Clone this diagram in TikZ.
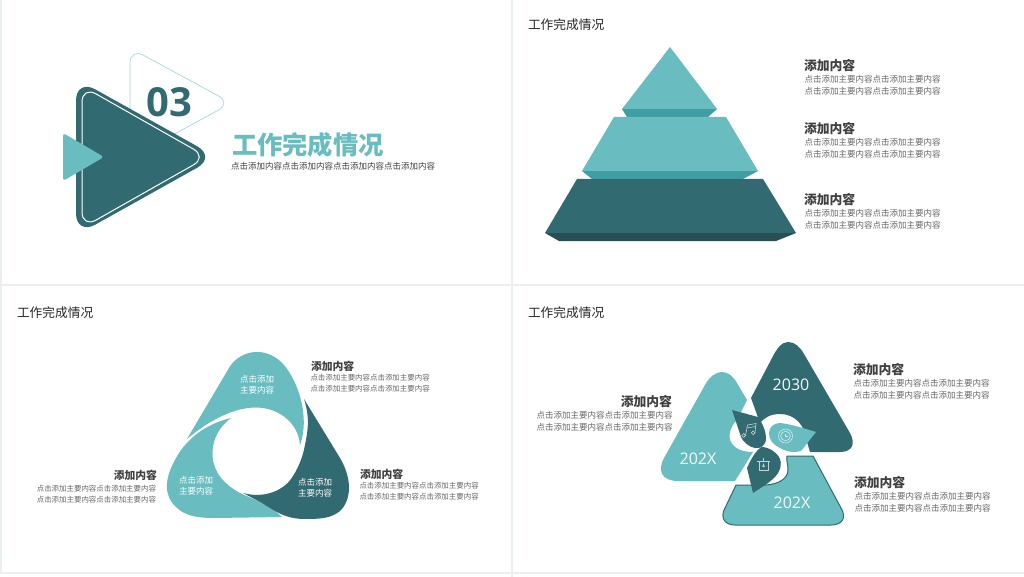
\documentclass[tikz,border=0pt]{standalone}
\usepackage{fontspec}
\setmainfont{Noto Sans CJK SC}
\newfontfamily\latinf{Open Sans}
\definecolor{dk}{HTML}{316A70}
\definecolor{lt}{HTML}{69BDC1}
\definecolor{ltd}{HTML}{3F9EA2}
\definecolor{dkd}{HTML}{274F54}
\definecolor{grid}{HTML}{EBEFF0}
\definecolor{tx}{HTML}{404040}
\definecolor{sub}{HTML}{666666}
\newcommand{\fsz}[1]{\fontsize{#1}{#1}\selectfont}
\tikzset{
  lab/.style={inner sep=0pt,outer sep=0pt},
  hdr/.style={lab,anchor=west,text=black!85,font=\fsz{12.7}},
  headA/.style={lab,text=tx,font=\fsz{12.8}\bfseries},
  bodyA/.style={lab,text=sub,font=\fsz{8.5}},
  headB/.style={lab,text=tx,font=\fsz{10.8}\bfseries},
  bodyB/.style={lab,text=sub,font=\fsz{7.45}},
  inW/.style={lab,text=white,align=center,font=\fsz{8.5}},
  yr/.style={lab,text=white!92!lt,font=\latinf\fsz{16}},
  icon/.style={draw=white!70!lt,line width=.6pt,fill=none},
  iconD/.style={draw=white!72!dk,line width=.6pt,fill=none},
}
\begin{document}
\begin{tikzpicture}[x=1pt,y=-1pt]
\useasboundingbox (0,0) rectangle (1024,577);
\fill[white] (0,0) rectangle (1024,577);
% panel grid
\fill[grid] (0,0) rectangle (2,574);
\fill[grid] (511,0) rectangle (513,574);
\fill[grid] (0,284) rectangle (1024,286);
\fill[grid] (0,572) rectangle (1024,574);
\fill[grid] (511,574) rectangle (513,577);

% ---------- panel 1
\draw[draw=lt!60!white,line width=.7pt,fill=white,rounded corners=15pt] (130,48) -- (231.6,103) -- (130,158) -- cycle;
\fill[dk,rounded corners=22pt] (76,78.6) -- (216.4,157) -- (76,235.4) -- cycle;
\draw[white,line width=1pt,rounded corners=16pt] (82,86) -- (207.4,157) -- (82,228) -- cycle;
\fill[lt,rounded corners=3pt] (63,133) -- (104,157) -- (63,181) -- cycle;
\node[lab,text=dk,font=\latinf\fsz{40}\bfseries] (num) at (169,102) {03};
\node[lab,anchor=west,text=lt,font=\fsz{25.3}\bfseries] (t1) at (232,145) {工作完成情况};
\node[lab,anchor=west,text=tx,font=\fsz{8.5}] (s1) at (231,166) {点击添加内容点击添加内容点击添加内容点击添加内容};

% ---------- panel 2
\node[hdr] (h2) at (528,24.5) {工作完成情况};
\fill[ltd] (622,109) -- (717,109) -- (708,117) -- (627,117) -- cycle;
\fill[lt] (670,47) -- (717,109) -- (622,109) -- cycle;
\fill[ltd] (582,171) -- (758,171) -- (743,179) -- (592,179) -- cycle;
\fill[lt] (614,117) -- (726,117) -- (758,171) -- (582,171) -- cycle;
\fill[dkd] (545,233) -- (796,233) -- (776,241) -- (559,241) -- cycle;
\fill[dk] (577,179) -- (763,179) -- (796,233) -- (545,233) -- cycle;
\foreach \n/\y in {a/66,b/129,c/200}{
  \node[headA,anchor=west] (p2\n) at (804,\y) {添加内容};
  \node[bodyA,anchor=west] (p2\n1) at (804.5,\y+13.5) {点击添加主要内容点击添加主要内容};
  \node[bodyA,anchor=west] (p2\n2) at (804.5,\y+25) {点击添加主要内容点击添加主要内容};
}

% ---------- panel 3
\node[hdr] (h3) at (17,312.5) {工作完成情况};
\fill[lt] (187,439) -- (229,368)
  .. controls (238,352) and (262,345) .. (280,361)
  .. controls (296,375) and (311,415) .. (300,445)
  .. controls (298,420) and (275,407) .. (255,407.5)
  .. controls (235,408) and (212,418) .. (187,439) -- cycle;
\fill[lt] (231,418)
  .. controls (205,424) and (185,440) .. (175,460)
  .. controls (165,478) and (163,495) .. (176,507)
  .. controls (186,517) and (200,518) .. (215,518)
  -- (282,517)
  .. controls (270,505) and (255,500) .. (240,493)
  .. controls (220,482) and (212,468) .. (212.5,452)
  .. controls (213,438) and (220,426) .. (231,418) -- cycle;
\fill[dk] (304,399) -- (340,458)
  .. controls (350,475) and (353,495) .. (342,509)
  .. controls (333,519) and (318,519) .. (305,519)
  .. controls (285,519) and (275,511) .. (262,503)
  -- (243,493)
  .. controls (265,499) and (285,490) .. (293,476)
  .. controls (300,465) and (303,455) .. (305,445)
  .. controls (308,430) and (310,418) .. (304,399) -- cycle;
\node[inW] (c1) at (257,384.5) {点击添加\\[2.5pt]主要内容};
\node[inW] (c2) at (196,485.5) {点击添加\\[2.5pt]主要内容};
\node[inW] (c3) at (315,487.5) {点击添加\\[2.5pt]主要内容};
\node[headB,anchor=west] (p3a) at (311,366) {添加内容};
\node[bodyB,anchor=west] (p3a1) at (310.5,378) {点击添加主要内容点击添加主要内容};
\node[bodyB,anchor=west] (p3a2) at (310.5,388.5) {点击添加主要内容点击添加主要内容};
\node[headB,anchor=west] (p3b) at (360,474) {添加内容};
\node[bodyB,anchor=west] (p3b1) at (359.5,485.5) {点击添加主要内容点击添加主要内容};
\node[bodyB,anchor=west] (p3b2) at (359.5,496.5) {点击添加主要内容点击添加主要内容};
\node[headB,anchor=east] (p3c) at (157,475) {添加内容};
\node[bodyB,anchor=east] (p3c1) at (156,489) {点击添加主要内容点击添加主要内容};
\node[bodyB,anchor=east] (p3c2) at (156,499.5) {点击添加主要内容点击添加主要内容};

% ---------- panel 4
\node[hdr] (h4) at (528,312.5) {工作完成情况};
% left triangle
\fill[lt] (747,400) -- (737,420)
  .. controls (729,428) and (726,440) .. (735,447)
  .. controls (740,451) and (747,452) .. (753,452)
  -- (735,481) -- (678,481)
  .. controls (662,481) and (657,471) .. (664,458)
  -- (705,385)
  .. controls (710,376) and (716,372) .. (722,372)
  .. controls (728,372) and (733,376) .. (737,383) -- cycle;
% dark triangle
\fill[dk] (751,398) -- (772,358)
  .. controls (777,348) and (782,342) .. (788,342)
  .. controls (795,342) and (800,347) .. (804,354)
  -- (850,433)
  .. controls (856,444) and (852,452) .. (840,452)
  -- (810,452) -- (807,442)
  .. controls (805,425) and (795,414) .. (780,414)
  .. controls (770,414) and (764,418) .. (760,423) -- cycle;
% bottom shape
\draw[dk,line width=1pt,fill=lt] (787,456) -- (813,456) -- (841,508)
  .. controls (847,518) and (842,525) .. (831,525)
  -- (735,525)
  .. controls (724,525) and (720,517) .. (725,508)
  -- (736,485) -- (760,485)
  .. controls (775,486) and (788,480) .. (788,470)
  .. controls (788,464) and (786,460) .. (787,456) -- cycle;
% leaves
\fill[dk] (732,410) -- (758,417)
  .. controls (763,424) and (766,432) .. (766,438)
  .. controls (766,446) and (760,449) .. (755,448)
  .. controls (749,447) and (743,442) .. (741,437) -- cycle;
\fill[lt] (816,432) -- (801,451)
  .. controls (795,453) and (787,452) .. (780,448)
  .. controls (772,444) and (769,439) .. (769,433)
  .. controls (769,427) and (774,423) .. (780,423)
  .. controls (790,424) and (803,428) .. (816,432) -- cycle;
\fill[dk] (753,493) -- (747,468)
  .. controls (751,459) and (755,452) .. (761,447)
  .. controls (769,447) and (776,452) .. (779,457)
  .. controls (783,464) and (780,472) .. (775,477)
  .. controls (768,484) and (760,488) .. (753,493) -- cycle;
% icons
\draw[iconD] (747.5,425) -- (756,423.5) -- (755,432.5);
\draw[iconD] (747.5,425) -- (745.5,435.5);
\draw[iconD] (747,428) -- (755.5,426.5);
\draw[iconD] (743.7,435.5) circle (1.9);
\draw[iconD] (753.2,432.8) circle (1.9);
\draw[icon] (785.5,436) circle (7);
\draw[icon] (785.5,436) circle (4.8);
\draw[icon] (785.5,433.5) -- (785.5,436.5) -- (788,436.5);
\draw[iconD] (759,461) -- (759,470) -- (768,470) -- (768,461);
\draw[iconD] (757,461) -- (770,461);
\draw[iconD] (763.5,461) -- (763.5,457.5);
\draw[iconD] (763.5,463.5) -- (763.5,467) (761.8,465.5) -- (763.5,467) -- (765.2,465.5);
% texts
\node[yr] (y1) at (791,385) {2030};
\node[yr] (y2) at (698,459) {202X};
\node[yr] (y3) at (792,503) {202X};
\node[headA,anchor=west] (p4a) at (853,370) {添加内容};
\node[bodyA,anchor=west] (p4a1) at (853.5,383) {点击添加主要内容点击添加主要内容};
\node[bodyA,anchor=west] (p4a2) at (853.5,395) {点击添加主要内容点击添加主要内容};
\node[headA,anchor=west] (p4b) at (854,483) {添加内容};
\node[bodyA,anchor=west] (p4b1) at (854.5,496) {点击添加主要内容点击添加主要内容};
\node[bodyA,anchor=west] (p4b2) at (854.5,508) {点击添加主要内容点击添加主要内容};
\node[headA,anchor=east] (p4c) at (672,402) {添加内容};
\node[bodyA,anchor=east] (p4c1) at (672.5,415) {点击添加主要内容点击添加主要内容};
\node[bodyA,anchor=east] (p4c2) at (672.5,427) {点击添加主要内容点击添加主要内容};
\end{tikzpicture}
\end{document}
